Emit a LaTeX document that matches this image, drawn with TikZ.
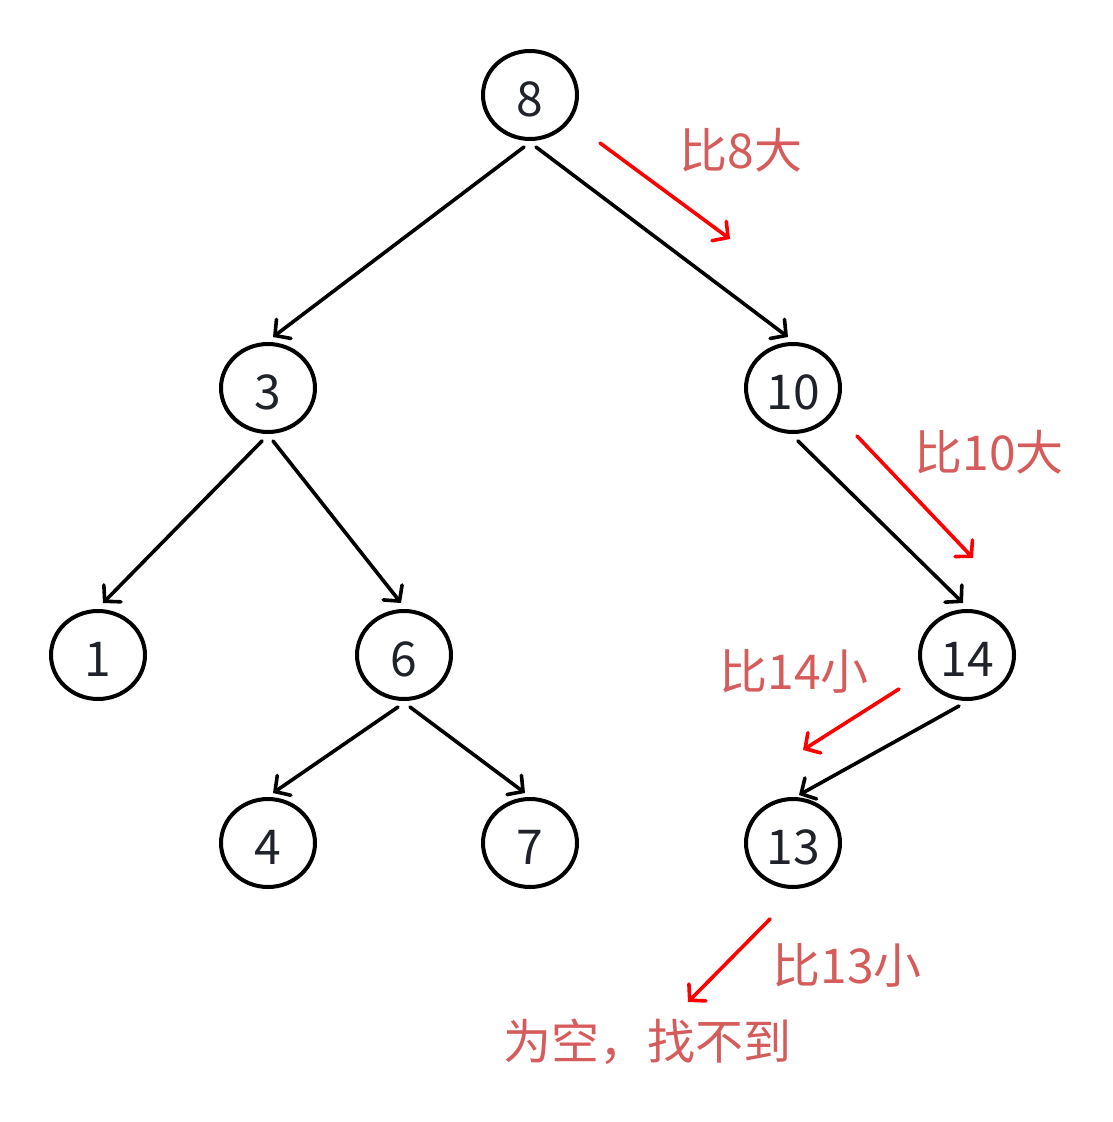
\documentclass[tikz,border=0pt]{standalone}
\usepackage{fontspec}
\setmainfont{Noto Sans CJK SC}
\usetikzlibrary{shapes.geometric,arrows.meta,calc}
\definecolor{nodetext}{HTML}{1F2329}
\definecolor{labelred}{HTML}{D65C5C}
\definecolor{arrowred}{HTML}{FF0000}
\tikzset{
  treenode/.style={ellipse,draw=black,line width=4pt,minimum width=94pt,minimum height=88pt,inner sep=0pt,text=nodetext,font=\fontsize{48}{52}\selectfont},
  edge/.style={draw=black,line width=3.6pt,line cap=round,-{Straight Barb[length=11pt,width=24pt,line width=3.6pt,line cap=round]}},
  redarrow/.style={draw=arrowred,line width=3.6pt,line cap=round,-{Straight Barb[length=11pt,width=24pt,line width=3.6pt,line cap=round]}},
  redlabel/.style={text=labelred,font=\fontsize{48}{52}\selectfont,inner sep=0pt}
}
\newcommand{\nodelab}[1]{\raisebox{-4.5pt}[\height][0pt]{#1}}
\begin{document}
\begin{tikzpicture}[x=1pt,y=-1pt]
\useasboundingbox[fill=white] (0,0) rectangle (1112,1122);
\node[treenode] (n8) at (530,95) {\nodelab{8}};
\node[treenode] (n3) at (268,388) {\nodelab{3}};
\node[treenode] (n10) at (793,388) {\nodelab{10}};
\node[treenode] (n1) at (98,655) {\nodelab{1}};
\node[treenode] (n6) at (404,655) {\nodelab{6}};
\node[treenode] (n14) at (967,655) {\nodelab{14}};
\node[treenode] (n4) at (268,843) {\nodelab{4}};
\node[treenode] (n7) at (530,843) {\nodelab{7}};
\node[treenode] (n13) at (793,843) {\nodelab{13}};

\draw[edge] ($(n8)+(-6,52)$) -- ($(n3)+(5,-51)$);
\draw[edge] ($(n8)+(6,52)$) -- ($(n10)+(-5,-51)$);
\draw[edge] ($(n3)+(-6,53)$) -- ($(n1)+(5,-52)$);
\draw[edge] ($(n3)+(5,53)$) -- ($(n6)+(-3,-52)$);
\draw[edge] ($(n10)+(5,53)$) -- ($(n14)+(-4,-52)$);
\draw[edge] ($(n6)+(-6,52)$) -- ($(n4)+(5,-50)$);
\draw[edge] ($(n6)+(6,52)$) -- ($(n7)+(-5,-50)$);
\draw[edge] ($(n14)+(-8,51)$) -- ($(n13)+(6,-48)$);

\node[redlabel] (l8) at (741,150) {比8大};
\node[redlabel] (l10) at (989,452) {比10大};
\node[redlabel] (l14) at (794,671) {比14小};
\node[redlabel] (l13) at (847,965) {比13小};
\node[redlabel] (lend) at (647,1042) {为空，找不到};

\coordinate (a1s) at (600,143); \coordinate (a1e) at (730,239);
\coordinate (a2s) at (857,436); \coordinate (a2e) at (973,558);
\coordinate (a3s) at (899,689); \coordinate (a3e) at (803,750);
\coordinate (a4s) at (770,919); \coordinate (a4e) at (688,1002);
\draw[redarrow] (a1s) -- (a1e);
\draw[redarrow] (a2s) -- (a2e);
\draw[redarrow] (a3s) -- (a3e);
\draw[redarrow] (a4s) -- (a4e);
\end{tikzpicture}
\end{document}
